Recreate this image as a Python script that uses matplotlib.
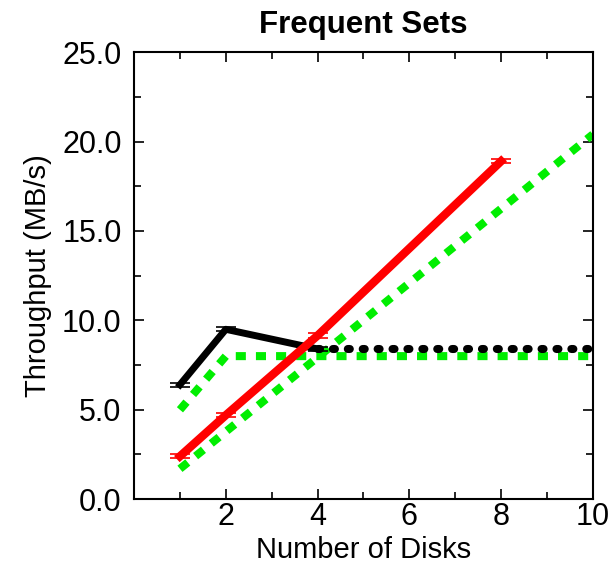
import matplotlib

matplotlib.use("Agg")
import matplotlib.pyplot as plt

plt.rcParams["font.family"] = ["Liberation Sans", "DejaVu Sans"]

# measured throughput (MB/s) with small error bars
measured_a_disks = [1, 2, 4]
measured_a_mbps = [6.4, 9.5, 8.4]
measured_a_err = [0.12, 0.12, 0.12]

measured_b_disks = [1, 2, 4, 8]
measured_b_mbps = [2.4, 4.7, 9.15, 18.9]
measured_b_err = [0.12, 0.12, 0.12, 0.12]

# saturation of series a beyond the last measurement
extrap_a_disks = [4, 10]
extrap_a_mbps = [8.4, 8.4]

# model predictions
model_a_disks = [1, 2, 10]
model_a_mbps = [5.0, 8.0, 8.0]
model_b_disks = [1, 10]
model_b_mbps = [1.7, 20.4]

x_ticks = [2, 4, 6, 8, 10]
y_ticks = [0, 5, 10, 15, 20, 25]

fig = plt.figure(figsize=(6.15, 5.66), dpi=100)
ax = fig.add_axes([0.218, 0.118, 0.746, 0.790])

green = "#00ee00"
ax.plot(model_a_disks, model_a_mbps, color=green, lw=5.8, ls=(0, (1.25, 1.25)),
        dash_capstyle="butt", zorder=2)
ax.plot(model_b_disks, model_b_mbps, color=green, lw=5.8, ls=(0, (1.25, 1.25)),
        dash_capstyle="butt", zorder=2)
ax.plot(extrap_a_disks, extrap_a_mbps, color="black", lw=5.8, ls=(0, (0.25, 1.6)),
        dash_capstyle="round", zorder=3)

ax.errorbar(measured_a_disks, measured_a_mbps, yerr=measured_a_err, color="black",
            lw=5, elinewidth=1, capsize=7, capthick=1.2, zorder=4)
ax.errorbar(measured_b_disks, measured_b_mbps, yerr=measured_b_err, color="#ff0000",
            lw=6, elinewidth=1, capsize=7, capthick=1.2, zorder=5)

ax.set_xlim(0, 10)
ax.set_ylim(0, 25)
ax.set_xticks(x_ticks)
ax.set_xticks([1, 3, 5, 7, 9], minor=True)
ax.set_yticks(y_ticks)
ax.set_yticks([2.5, 7.5, 12.5, 17.5, 22.5], minor=True)
ax.set_yticklabels([f"{v:.1f}" for v in y_ticks])
ax.tick_params(which="both", direction="in", top=True, right=True, labelsize=22,
               width=1.2)
ax.tick_params(axis="x", pad=2)
ax.tick_params(axis="y", pad=9)
ax.tick_params(which="major", length=7)
ax.tick_params(which="minor", length=5)
for spine in ax.spines.values():
    spine.set_linewidth(1.5)

ax.set_xlabel("Number of Disks", fontsize=21, labelpad=3)
ax.set_ylabel("Throughput (MB/s)", fontsize=21, labelpad=7)
ax.set_title("Frequent Sets", fontsize=22.5, fontweight="bold", pad=14)

fig.savefig("out.png", dpi=100)
